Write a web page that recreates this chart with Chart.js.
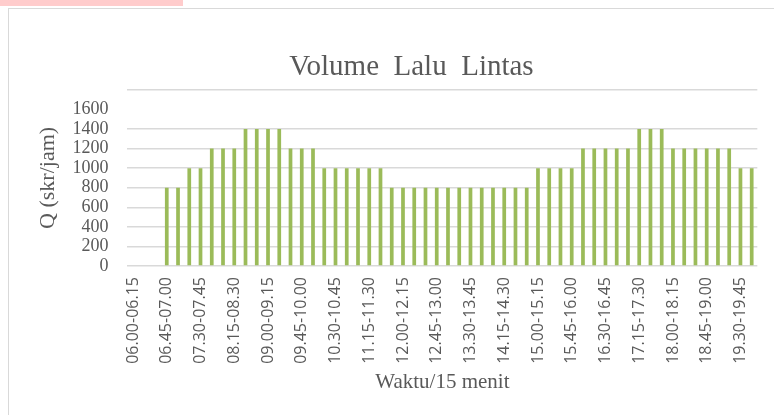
<!DOCTYPE html>
<html>
<head>
<meta charset="utf-8">
<script src="https://cdn.jsdelivr.net/npm/chart.js@4.4.1/dist/chart.umd.min.js"></script>
<style>
  html, body { margin: 0; padding: 0; background: #fff; }
  body { width: 774px; height: 415px; position: relative; overflow: hidden; }
  #strip { position: absolute; left: 0; top: 0; width: 183px; height: 6px; background: #ffcccc; }
  #frame { position: absolute; left: 8px; top: 8px; width: 780px; height: 420px;
           border-left: 1px solid #d9d9d9; border-top: 1px solid #d9d9d9; }
  #wrap { position: absolute; left: 0; top: 0; width: 774px; height: 415px; }
</style>
</head>
<body>
<div id="strip"></div>
<div id="frame"></div>
<div id="wrap"><canvas id="chart"></canvas></div>
<script>
// waktu per 15 menit
const timeLabels = [
  "06.00-06.15", "06.15-06.30", "06.30-06.45", "06.45-07.00",
  "07.00-07.15", "07.15-07.30", "07.30-07.45", "07.45-08.00",
  "08.00-08.15", "08.15-08.30", "08.30-08.45", "08.45-09.00",
  "09.00-09.15", "09.15-09.30", "09.30-09.45", "09.45-10.00",
  "10.00-10.15", "10.15-10.30", "10.30-10.45", "10.45-11.00",
  "11.00-11.15", "11.15-11.30", "11.30-11.45", "11.45-12.00",
  "12.00-12.15", "12.15-12.30", "12.30-12.45", "12.45-13.00",
  "13.00-13.15", "13.15-13.30", "13.30-13.45", "13.45-14.00",
  "14.00-14.15", "14.15-14.30", "14.30-14.45", "14.45-15.00",
  "15.00-15.15", "15.15-15.30", "15.30-15.45", "15.45-16.00",
  "16.00-16.15", "16.15-16.30", "16.30-16.45", "16.45-17.00",
  "17.00-17.15", "17.15-17.30", "17.30-17.45", "17.45-18.00",
  "18.00-18.15", "18.15-18.30", "18.30-18.45", "18.45-19.00",
  "19.00-19.15", "19.15-19.30", "19.30-19.45", "19.45-20.00"
];

// Q (skr/jam)
const volume = [
  0, 0, 0, 800,
  800, 1000, 1000, 1200,
  1200, 1200, 1400, 1400,
  1400, 1400, 1200, 1200,
  1200, 1000, 1000, 1000,
  1000, 1000, 1000, 800,
  800, 800, 800, 800,
  800, 800, 800, 800,
  800, 800, 800, 800,
  1000, 1000, 1000, 1000,
  1200, 1200, 1200, 1200,
  1200, 1400, 1400, 1400,
  1200, 1200, 1200, 1200,
  1200, 1200, 1000, 1000
];

const yTicks = [0, 200, 400, 600, 800, 1000, 1200, 1400, 1600];

const gray = "#595959";
const gridColor = "#d9d9d9";

const ctx = document.getElementById("chart").getContext("2d");

new Chart(ctx, {
  type: "bar",
  data: {
    labels: timeLabels,
    datasets: [
      {
        label: "Volume",
        data: volume,
        backgroundColor: "#9bbb59",
        categoryPercentage: 1,
        barPercentage: 0.33,
      },
    ],
  },
  options: {
    responsive: true,
    maintainAspectRatio: false,
    animation: false,
    layout: {
      padding: { left: 31, right: 11, top: 50, bottom: 20 },
    },
    plugins: {
      legend: { display: false },
      tooltip: { enabled: false },
      title: {
        display: true,
        // leading spaces nudge the centred title a little to the right
        text: "\u00a0\u00a0\u00a0\u00a0Volume  Lalu  Lintas",
        color: gray,
        font: { family: "Liberation Serif", size: 29, weight: "normal" },
        padding: { top: 0, bottom: 5 },
      },
    },
    scales: {
      x: {
        offset: true,
        grid: { display: false },
        border: { display: false },
        ticks: {
          autoSkip: false,
          minRotation: 90,
          maxRotation: 90,
          padding: 3,
          color: gray,
          font: { family: "Open Sans", size: 16 },
          callback: (value, index) => (index % 3 === 0 ? timeLabels[index] : ""),
        },
        title: {
          display: true,
          text: "Waktu/15 menit",
          color: gray,
          font: { family: "Liberation Serif", size: 21 },
          padding: { top: 3, bottom: 0 },
        },
      },
      y: {
        min: 0,
        max: 1800,
        border: { display: false },
        grid: {
          drawTicks: false,
          lineWidth: 1.5,
          color: (c) => (c.tick && c.tick.value === 1600 ? "rgba(0,0,0,0)" : gridColor),
        },
        ticks: {
          autoSkip: false,
          stepSize: 200,
          padding: 19,
          color: gray,
          font: { family: "Liberation Serif", size: 18 },
          callback: (value) => (yTicks.includes(value) ? value : ""),
        },
        title: {
          display: true,
          text: "Q (skr/jam)",
          color: gray,
          font: { family: "Liberation Serif", size: 22 },
          padding: { top: 4, bottom: -8 },
        },
      },
    },
  },
});
</script>
</body>
</html>
